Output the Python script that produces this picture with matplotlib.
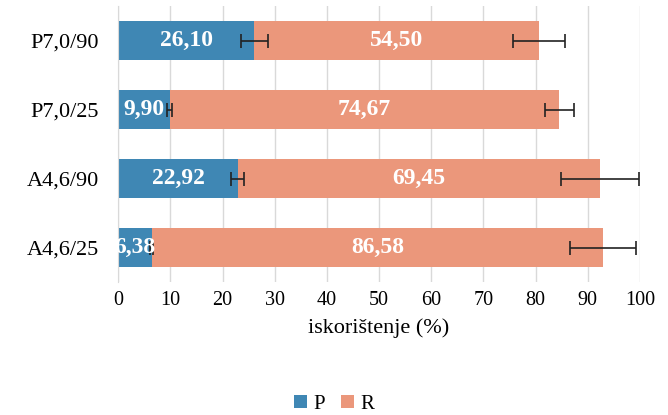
import matplotlib.pyplot as plt
import numpy as np

plt.rcParams['font.family'] = ['Liberation Serif', 'DejaVu Serif']

categories = ['P7,0/90', 'P7,0/25', 'A4,6/90', 'A4,6/25']
p_vals = [26.10, 9.90, 22.92, 6.38]
r_vals = [54.50, 74.67, 69.45, 86.58]
p_err = [2.6, 0.5, 1.25, 0.25]
r_err = [5.0, 2.8, 7.5, 6.3]

blue = '#3f87b4'
salmon = '#eb977b'

fig = plt.figure(figsize=(6.68, 4.15), dpi=100)
ax = fig.add_axes([0.177, 0.32, 0.781, 0.665])

y = np.arange(len(categories))[::-1]
h = 0.57
ekw = dict(ecolor='#222222', elinewidth=1.2, capsize=5, capthick=1.2)
ax.barh(y, p_vals, height=h, color=blue, xerr=p_err, error_kw=ekw, label='P', zorder=2)
ax.barh(y, r_vals, height=h, left=p_vals, color=salmon, xerr=r_err, error_kw=ekw,
        label='R', zorder=2)

for yi, p, r in zip(y, p_vals, r_vals):
    ax.text(p / 2, yi, f'{p:.2f}'.replace('.', ','), ha='center', va='center',
            color='white', fontsize=17, fontweight='bold', zorder=3)
    ax.text(p + r / 2, yi, f'{r:.2f}'.replace('.', ','), ha='center', va='center',
            color='white', fontsize=17, fontweight='bold', zorder=3)

ax.set_xlim(0, 100)
ax.set_ylim(-0.5, 3.5)
ax.set_xticks(np.arange(0, 101, 10))
ax.set_yticks(y)
ax.set_yticklabels(categories)
ax.tick_params(axis='x', length=0, labelsize=14.5, pad=6)
ax.tick_params(axis='y', length=0, labelsize=16, pad=14)
ax.grid(axis='x', color='#d9d9d9', linewidth=1, zorder=0)
for s in ['top', 'right', 'bottom']:
    ax.spines[s].set_visible(False)
ax.spines['left'].set_color('#d9d9d9')
ax.set_xlabel('iskorištenje (%)', fontsize=16, labelpad=6)

handles, labels = ax.get_legend_handles_labels()
fig.legend(handles, labels, loc='center', bbox_to_anchor=(0.5, 0.025), ncol=2,
           frameon=False, fontsize=15, handlelength=0.6, handleheight=0.6,
           handletextpad=0.3, columnspacing=0.8)

fig.savefig('out.png', dpi=100)
